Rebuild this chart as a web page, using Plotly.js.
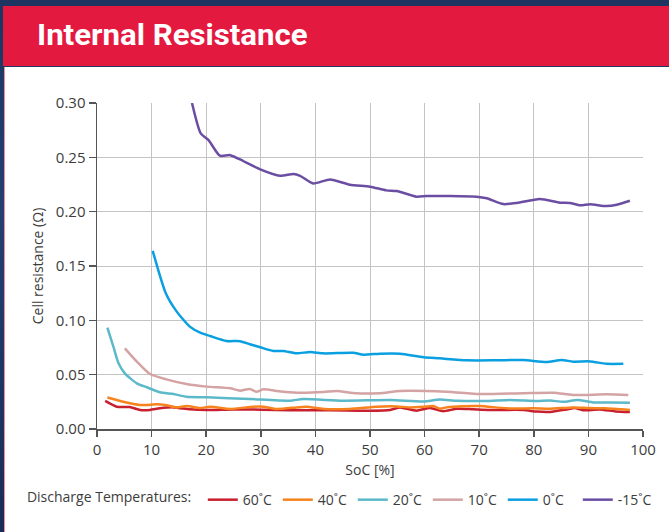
<!DOCTYPE html>
<html>
<head>
<meta charset="utf-8">
<script src="https://cdn.plot.ly/plotly-3.0.1.min.js"></script>
<style>
  html, body { margin:0; padding:0; width:669px; height:532px; overflow:hidden; }
  body { background: linear-gradient(180deg, #1d3560 0%, #243f70 40%, #1a2c55 100%); position:relative; font-family:"Open Sans", sans-serif; }
  #header { position:absolute; left:3px; top:6px; width:666px; height:60px; background:#e4193f; }
  #header span { position:absolute; left:34px; top:11px; color:#fff; font-family:Roboto, "Liberation Sans", sans-serif; font-weight:700; font-size:30px; transform:scaleX(1.04); transform-origin:left center; white-space:nowrap; }
  #panel { position:absolute; left:4px; top:67px; width:665px; height:465px; background:#fff; border-left:1px solid #f08aa0; }
  #chart { position:absolute; left:0; top:0; width:669px; height:532px; }
</style>
</head>
<body>
<div id="header"><span>Internal Resistance</span></div>
<div id="panel"></div>
<div id="chart"></div>
<script>
// ---- data ----
const seriesNames = ["60˚C", "40˚C", "20˚C", "10˚C", "0˚C", "-15˚C"];
const seriesColors = ["#c8202f", "#f7831f", "#5cb9c9", "#d4a3a3", "#0a9fe0", "#6b4ea2"];

const x60 = [1.5, 3.6, 6.0, 7.9, 9.7, 11.5, 14.0, 17.0, 20.1, 25, 30, 35.3, 42.7, 50, 53.7, 55.5, 58.5, 61.0, 63.4, 65.9, 68.9, 72.0, 78.1, 80.5, 83.0, 86.0, 87.5, 89.0, 92.0, 95.0, 97.6];
const y60 = [0.0258, 0.0205, 0.0202, 0.0175, 0.0175, 0.0190, 0.0199, 0.0181, 0.0175, 0.0180, 0.0178, 0.0172, 0.0172, 0.0168, 0.0175, 0.0199, 0.0169, 0.0193, 0.0163, 0.0187, 0.0181, 0.0175, 0.0175, 0.0160, 0.0157, 0.0180, 0.0193, 0.0172, 0.0180, 0.0162, 0.0157];

const x40 = [1.9, 4.8, 7.9, 9.1, 10.9, 12.5, 14.6, 16.4, 18.9, 20.7, 24.4, 28.6, 30.5, 32.9, 36.6, 38.4, 41.5, 46.3, 51.2, 54.9, 57.3, 59.8, 61.6, 62.8, 64.0, 67.0, 70.1, 75.0, 80.0, 83.0, 87.2, 90.0, 93.0, 97.6];
const y40 = [0.0290, 0.0251, 0.0221, 0.0221, 0.0227, 0.0222, 0.0199, 0.0212, 0.0193, 0.0205, 0.0184, 0.0205, 0.0205, 0.0184, 0.0199, 0.0205, 0.0184, 0.0184, 0.0205, 0.0208, 0.0199, 0.0205, 0.0212, 0.0187, 0.0199, 0.0210, 0.0212, 0.0190, 0.0190, 0.0187, 0.0199, 0.0193, 0.0190, 0.0175];

const x20 = [1.9, 3.0, 3.9, 5.1, 7.3, 9.1, 11.5, 14.0, 16.4, 20.1, 28.0, 35.3, 37.8, 45.0, 53.7, 59.8, 62.8, 65.9, 71.4, 75.6, 80.5, 83.0, 85.4, 88.0, 90.9, 94.0, 97.6];
const y20 = [0.0932, 0.0757, 0.0610, 0.0512, 0.0420, 0.0384, 0.0338, 0.0322, 0.0297, 0.0292, 0.0276, 0.0260, 0.0276, 0.0260, 0.0267, 0.0254, 0.0272, 0.0260, 0.0258, 0.0267, 0.0258, 0.0262, 0.0250, 0.0268, 0.0245, 0.0243, 0.0242];

const x10 = [5.1, 7.3, 9.7, 12.7, 16.4, 20.1, 24.4, 26.2, 28.0, 29.2, 30.5, 32.9, 36.6, 41.5, 43.9, 47.5, 51.8, 55.5, 64.0, 70.1, 78.1, 83.6, 87.2, 93.3, 97.3];
const y10 = [0.0742, 0.0620, 0.0506, 0.0457, 0.0414, 0.0390, 0.0374, 0.0353, 0.0368, 0.0343, 0.0365, 0.0350, 0.0334, 0.0340, 0.0350, 0.0328, 0.0330, 0.0350, 0.0343, 0.0322, 0.0330, 0.0334, 0.0313, 0.0319, 0.0313];

const x0 = [10.2, 12.6, 14.6, 17.0, 18.9, 20.7, 23.7, 26.2, 28.0, 29.9, 32.3, 34.1, 36.6, 39.0, 41.5, 46.9, 48.8, 51.8, 55.5, 59.8, 62.8, 67.7, 73.2, 78.1, 82.3, 85.1, 87.2, 90.3, 93.3, 96.4];
const y0 = [0.164, 0.1249, 0.1080, 0.0942, 0.0886, 0.0856, 0.0810, 0.0808, 0.0780, 0.0752, 0.0718, 0.0718, 0.0696, 0.0709, 0.0696, 0.0702, 0.0684, 0.0693, 0.0693, 0.0660, 0.0650, 0.0632, 0.0632, 0.0635, 0.0616, 0.0635, 0.0620, 0.0622, 0.0600, 0.0600];

const xm15 = [17.4, 19.0, 20.4, 22.5, 24.4, 26.8, 29.9, 33.5, 36.0, 37.2, 39.6, 42.7, 46.3, 50.0, 53.0, 54.9, 58.5, 60.4, 64.7, 69.5, 71.4, 74.4, 76.9, 81.1, 84.8, 86.6, 88.5, 90.3, 93.3, 95.2, 97.6];
const ym15 = [0.300, 0.272, 0.266, 0.2515, 0.252, 0.2466, 0.239, 0.233, 0.2347, 0.233, 0.226, 0.2297, 0.2248, 0.223, 0.2196, 0.219, 0.2138, 0.2144, 0.2144, 0.2138, 0.2123, 0.207, 0.208, 0.2117, 0.2083, 0.208, 0.2058, 0.2068, 0.2052, 0.2064, 0.210];

const xTickVals = [0,10,20,30,40,50,60,70,80,90,100];
const yTickVals = [0, 0.05, 0.10, 0.15, 0.20, 0.25, 0.30];

const xs = [x60, x40, x20, x10, x0, xm15];
const ys = [y60, y40, y20, y10, y0, ym15];

const traces = seriesNames.map((n, i) => ({
  type: 'scatter', mode: 'lines', name: n,
  x: xs[i], y: ys[i],
  line: { color: seriesColors[i], width: 2.5, shape: 'spline', smoothing: 0.6 },
  cliponaxis: true
}));

const layout = {
  width: 669, height: 532,
  margin: { l: 97, r: 26, t: 103, b: 103, pad: 0 },
  paper_bgcolor: 'rgba(0,0,0,0)',
  plot_bgcolor: '#ffffff',
  font: { family: '"Open Sans", "Noto Sans", sans-serif', color: '#3c3c3c' },
  xaxis: {
    range: [0, 100], tickvals: xTickVals, ticktext: xTickVals.map(String),
    showgrid: true, gridcolor: '#c4c4c4', gridwidth: 1,
    zeroline: false, showline: true, linecolor: '#555', linewidth: 1.5,
    ticks: 'outside', ticklen: 6, tickcolor: '#555', tickwidth: 1.5,
    tickfont: { size: 15, color: '#3c3c3c' },
    title: { text: 'SoC [%]', font: { size: 14, color: '#3c3c3c' }, standoff: 7 }
  },
  yaxis: {
    range: [0, 0.30], tickvals: yTickVals, ticktext: yTickVals.map(v => v.toFixed(2)),
    showgrid: true, gridcolor: '#c4c4c4', gridwidth: 1,
    zeroline: false, showline: true, linecolor: '#555', linewidth: 1.5,
    ticks: 'outside', ticklen: 7, tickcolor: '#555', tickwidth: 1.5,
    tickfont: { size: 15, color: '#3c3c3c' },
    title: { text: 'Cell resistance (Ω)', font: { size: 14, color: '#3c3c3c' }, standoff: 9 }
  },
  showlegend: true,
  legend: {
    orientation: 'h', x: -0.132, xanchor: 'left', y: -0.218, yanchor: 'middle',
    title: { text: 'Discharge Temperatures: ', side: 'left', font: { size: 14, color: '#3c3c3c' } },
    font: { size: 14, color: '#3c3c3c' },
    bgcolor: 'rgba(0,0,0,0)', itemwidth: 30, entrywidth: 30, traceorder: 'normal'
  }
};

Plotly.newPlot('chart', traces, layout, { displayModeBar: false, staticPlot: true });
</script>
</body>
</html>
